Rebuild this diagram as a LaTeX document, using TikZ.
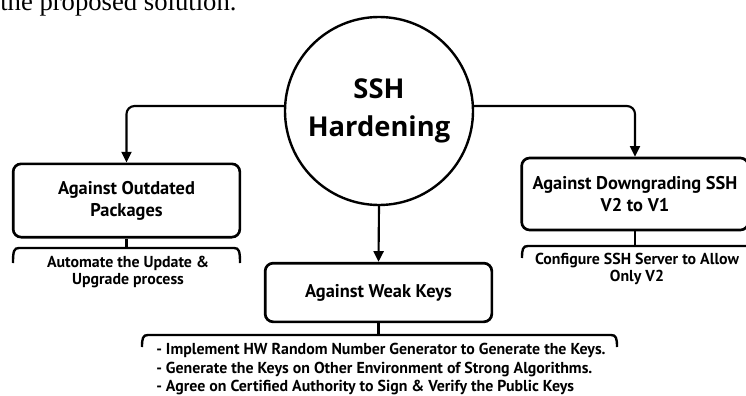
\documentclass[tikz,border=0pt]{standalone}
\usepackage{fontspec}
\setmainfont{PT Sans}
\newfontfamily\paperfont{Liberation Serif}
\newfontfamily\hubfont{Open Sans}
\usetikzlibrary{arrows.meta}

\tikzset{
  hub/.style={draw, circle, line width=1.8pt, minimum size=141pt, inner sep=0pt, align=center,
    font=\hubfont\fontsize{20.5}{28.5}\selectfont\bfseries},
  box/.style={draw, line width=2pt, rounded corners=6pt, inner sep=0pt, align=center,
    minimum width=170pt, font=\fontsize{13.8}{16.5}\selectfont\bfseries},
  link/.style={line width=1.6pt, rounded corners=6pt, -{Triangle[length=8pt,width=7.5pt]}},
  stem/.style={line width=1.6pt},
  bracket/.style={line width=1.8pt},
  note/.style={inner sep=0pt, align=center, font=\fontsize{11.9}{12.4}\selectfont\bfseries},
}

\begin{document}
\begin{tikzpicture}[x=0.75pt,y=-0.75pt]
    \useasboundingbox (0,0) rectangle (746,396);
    % last line of the text above the figure, cut by the page
    \node[anchor=base west, inner sep=0pt, font=\paperfont\fontsize{20}{24}\selectfont] (paper) at (0,11) {the proposed solution.};

    \node[hub] (hard) at (379,111) {SSH\\Hardening};
    \node[box, minimum height=55pt] (outd) at (126.5,200.5) {Against Outdated\\Packages};
    \node[box, minimum height=54pt] (down) at (635,194) {Against Downgrading SSH\\V2 to V1};
    \node[box, minimum height=44pt] (weak) at (378.5,292.5) {Against Weak Keys};

    \draw[link] (hard.177) -| (outd.north);
    \draw[link] (hard.3) -| (down.north);
    \draw[link] (hard.south) -- (weak.north);

    % brackets under the boxes
    \coordinate (outdBr) at (126.5,248);
    \coordinate (downBr) at (635,246);
    \coordinate (weakBr) at (378.5,335);
    \draw[stem] (outd.south) -- (outdBr);
    \draw[stem] (down.south) -- (downBr);
    \draw[stem] (weak.south) -- (weakBr);
    \foreach \l/\r/\y/\h in {13/240/248/15, 522/760/246/12, 142/617/335/12}
        {\draw[bracket] (\l,\y+\h) .. controls (\l,\y+3) and (\l+1,\y) .. (\l+6,\y) -- (\r-6,\y) .. controls (\r-1,\y) and (\r,\y+3) .. (\r,\y+\h);}

    \node[note, anchor=north] (outdTxt) at (128,256) {Automate the Update \&\\Upgrade process};
    \node[note, anchor=north, font=\fontsize{11.9}{12.8}\selectfont\bfseries] (downTxt) at (637,253) {Configure SSH Server to Allow\\Only V2};
    \node[note, anchor=north west, align=left, font=\fontsize{11.9}{13.9}\selectfont\bfseries] (weakTxt) at (156,343)
        {- Implement HW Random Number Generator to Generate the Keys.\\
         - Generate the Keys on Other Environment of Strong Algorithms.\\
         - Agree on Certified Authority to Sign \& Verify the Public Keys};
\end{tikzpicture}
\end{document}
